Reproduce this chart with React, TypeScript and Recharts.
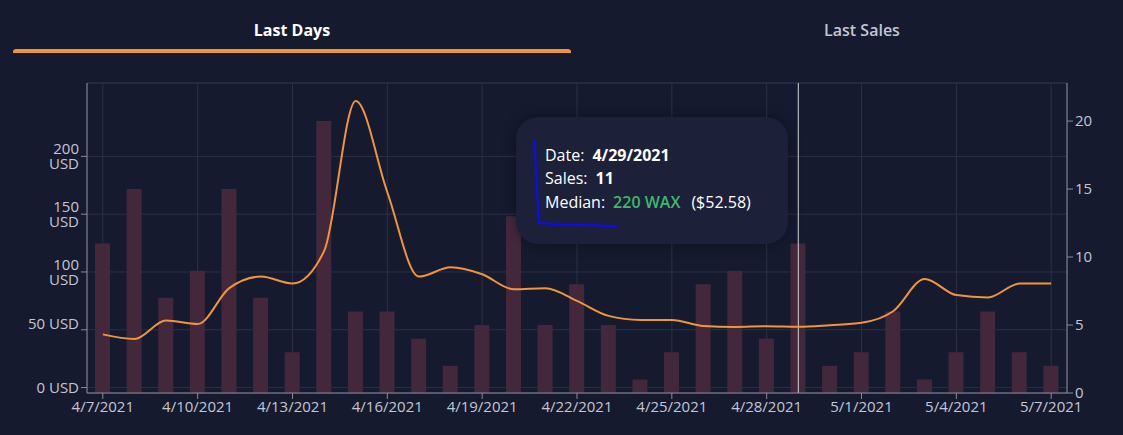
import { ComposedChart, Bar, Line, XAxis, YAxis, CartesianGrid, Tooltip, ReferenceLine } from "recharts";

const dates = [
  "4/7/2021", "4/8/2021", "4/9/2021", "4/10/2021", "4/11/2021", "4/12/2021", "4/13/2021",
  "4/14/2021", "4/15/2021", "4/16/2021", "4/17/2021", "4/18/2021", "4/19/2021", "4/20/2021",
  "4/21/2021", "4/22/2021", "4/23/2021", "4/24/2021", "4/25/2021", "4/26/2021", "4/27/2021",
  "4/28/2021", "4/29/2021", "4/30/2021", "5/1/2021", "5/2/2021", "5/3/2021", "5/4/2021",
  "5/5/2021", "5/6/2021", "5/7/2021",
];
const sales = [11, 15, 7, 9, 15, 7, 3, 20, 6, 6, 4, 2, 5, 13, 5, 8, 5, 1, 3, 8, 9, 4, 11, 2, 3, 6, 1, 3, 6, 3, 2];
const medianUsd = [
  46, 42, 58, 55, 86, 96, 90, 118, 248, 169, 96, 104, 98, 85, 86, 75, 62, 58.5, 58.5, 53.3,
  52.5, 53, 52.58, 54, 56, 66, 94, 80, 78, 90, 90,
];
const shownDates = ["4/7/2021", "4/10/2021", "4/13/2021", "4/16/2021", "4/19/2021", "4/22/2021", "4/25/2021", "4/28/2021", "5/1/2021", "5/4/2021", "5/7/2021"];
const usdTicks = [0, 50, 100, 150, 200];
const salesTicks = [0, 5, 10, 15, 20];
const usdDomain = [-4.7, 263.5];
const salesDomain = [0, 22.8];
const highlightIndex = 22;
const highlightWax = 220;
const tabs = ["Last Days", "Last Sales"];

const data = dates.map((date, i) => ({ date, sales: sales[i], usd: medianUsd[i] }));

const BG = "#151a2e";
const GRID = "#2c3145";
const AXIS = "#8a8d98";
const TEXT = "#c3c7d3";
const ORANGE = "#f0953a";
const BAR = "#43283c";
const FONT = "'Open Sans', sans-serif";

const UsdTick = ({ x, y, payload }: any) => {
  const v = payload.value;
  if (v >= 100) {
    return (
      <text x={x} y={y} textAnchor="end" fill={TEXT} fontSize={15} fontFamily={FONT}>
        <tspan x={x} dy={-2}>{v}</tspan>
        <tspan x={x} dy={15}>USD</tspan>
      </text>
    );
  }
  return (
    <text x={x} y={y} dy={v === 0 ? 5 : -1} textAnchor="end" fill={TEXT} fontSize={15} fontFamily={FONT}>
      {v} USD
    </text>
  );
};

const SaleTooltip = ({ active, payload }: any) => {
  if (!active || !payload?.length) return null;
  const d = payload[0].payload;
  const row = { height: 23.5, display: "flex", alignItems: "center", gap: 8, whiteSpace: "nowrap" as const };
  return (
    <div
      style={{
        width: 272,
        height: 127,
        boxSizing: "border-box",
        padding: "26px 0 0 29px",
        borderRadius: 22,
        background: "#1c2039",
        boxShadow: "0 0 14px rgba(0,0,0,0.35)",
        color: "#ffffff",
        fontFamily: FONT,
        fontSize: 16,
      }}
    >
      <div style={row}>
        <span>Date:</span>
        <span style={{ fontWeight: 700 }}>{d.date}</span>
      </div>
      <div style={row}>
        <span>Sales:</span>
        <span style={{ fontWeight: 700 }}>{d.sales}</span>
      </div>
      <div style={row}>
        <span>Median:</span>
        <span style={{ color: "#3cb96b", fontWeight: 600 }}>{highlightWax} WAX</span>
        <span style={{ marginLeft: 3 }}>(${d.usd.toFixed(2)})</span>
      </div>
    </div>
  );
};

export default function App() {
  return (
    <div style={{ position: "absolute", left: 0, top: 0, width: 1123, height: 435, background: BG, overflow: "hidden", fontFamily: FONT }}>
      {/* tabs */}
      {tabs.map((t, i) => (
        <div
          key={t}
          style={{
            position: "absolute",
            left: i === 0 ? 13 : 571,
            width: i === 0 ? 558 : 582,
            top: 18,
            height: 24,
            lineHeight: "24px",
            textAlign: "center",
            fontSize: 16,
            fontWeight: i === 0 ? 700 : 600,
            color: i === 0 ? "#ffffff" : "#c3c7d0",
          }}
        >
          {t}
        </div>
      ))}
      <div style={{ position: "absolute", left: 13, top: 49, width: 558, height: 4, background: ORANGE, borderRadius: "3px 3px 0 0" }} />

      <div style={{ position: "absolute", left: 0, top: 0 }}>
        <ComposedChart width={1123} height={435} data={data} margin={{ top: 83, right: 0, left: 0, bottom: 12 }}>
          <CartesianGrid stroke={GRID} yAxisId="usd" />
          <ReferenceLine y={usdDomain[1]} yAxisId="usd" stroke={GRID} />
          <ReferenceLine x={dates[highlightIndex]} yAxisId="usd" stroke="#d6d6d6" strokeWidth={1} />
          <XAxis
            dataKey="date"
            ticks={shownDates}
            interval={0}
            height={30}
            stroke={AXIS}
            tick={{ fill: TEXT, fontSize: 15, fontFamily: FONT }}
          />
          <YAxis
            yAxisId="usd"
            width={87}
            domain={usdDomain}
            ticks={usdTicks}
            allowDataOverflow
            stroke={AXIS}
            tick={<UsdTick />}
          />
          <YAxis
            yAxisId="sales"
            orientation="right"
            width={56}
            domain={salesDomain}
            ticks={salesTicks}
            allowDataOverflow
            stroke={AXIS}
            tick={{ fill: TEXT, fontSize: 15, fontFamily: FONT }}
          />
          <Tooltip
            content={<SaleTooltip />}
            defaultIndex={highlightIndex}
            active
            position={{ x: 516, y: 117 }}
            cursor={false}
            isAnimationActive={false}
            allowEscapeViewBox={{ x: true, y: true }}
          />
          <Bar yAxisId="sales" dataKey="sales" fill={BAR} barSize={15} isAnimationActive={false} />
          <Line
            yAxisId="usd"
            type="monotone"
            dataKey="usd"
            stroke={ORANGE}
            strokeWidth={2}
            dot={false}
            activeDot={false}
            isAnimationActive={false}
          />
        </ComposedChart>
      </div>

      {/* hand-drawn annotation */}
      <svg width={1123} height={435} style={{ position: "absolute", left: 0, top: 0, pointerEvents: "none" }}>
        <polyline
          points="534.5,140 536,170 537.5,200 539,223 560,224.5 580,225 600,225.5 617,226"
          fill="none"
          stroke="#0a0aff"
          strokeWidth={2}
        />
      </svg>
    </div>
  );
}
